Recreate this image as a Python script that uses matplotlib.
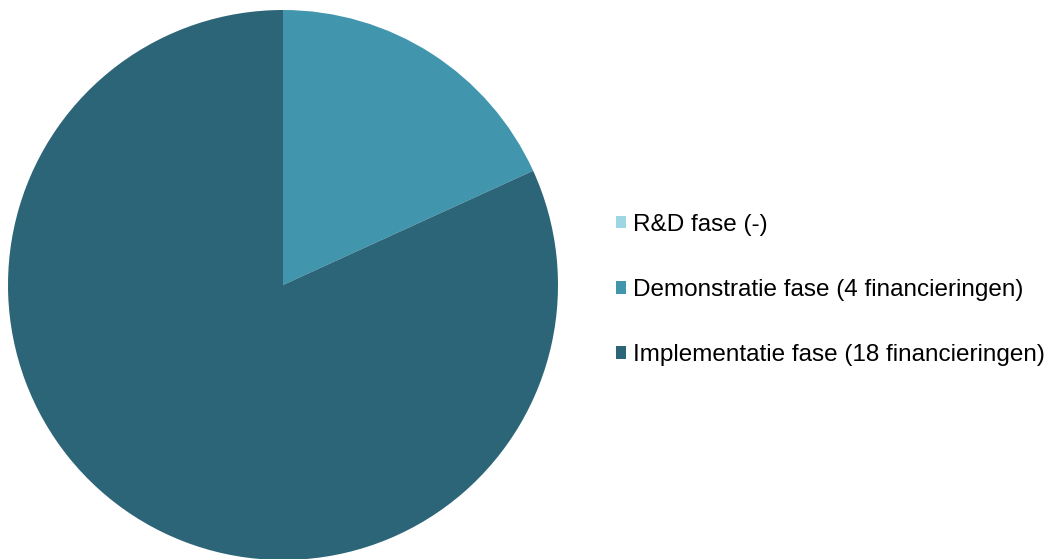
import matplotlib.pyplot as plt
from matplotlib.patches import Patch

labels = ['R&D fase (-)', 'Demonstratie fase (4 financieringen)',
          'Implementatie fase (18 financieringen)']
values = [0, 4, 18]
colors = ['#9fd6e4', '#4196ae', '#2c6578']

plt.rcParams['font.family'] = ['Liberation Sans', 'DejaVu Sans']

fig = plt.figure(figsize=(10.52, 5.59), dpi=100)
ax = fig.add_axes([8 / 1052, -1 / 559, 550 / 1052, 550 / 559])
ax.pie(values, colors=colors, startangle=90, counterclock=False,
       wedgeprops=dict(linewidth=0))
ax.set_xlim(-1, 1)
ax.set_ylim(-1, 1)
ax.set_aspect('equal')

handles = [Patch(facecolor=c, edgecolor='none') for c in colors]
fig.legend(handles, labels, loc='upper left',
           bbox_to_anchor=(606 / 1052, 1 - 204 / 559),
           frameon=False, fontsize=17.5, handlelength=0.42, handleheight=0.42,
           handletextpad=0.3, labelspacing=1.78, borderaxespad=0)

plt.savefig('out.png', dpi=100)
